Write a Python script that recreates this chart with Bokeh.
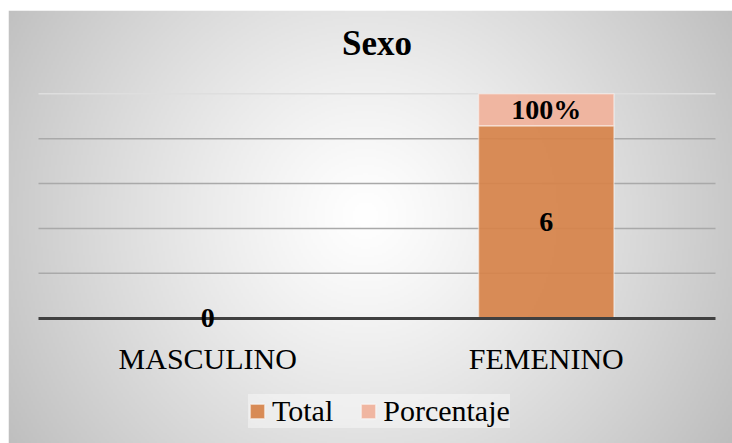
import numpy as np
from bokeh.plotting import figure
from bokeh.models import (ColumnDataSource, Range1d, LinearAxis, FixedTicker,
                          Legend, LegendItem, Label)
from bokeh.core.properties import value
from bokeh.embed import file_html
from bokeh.resources import INLINE

# ---------------- data ----------------
categories = ["MASCULINO", "FEMENINO"]
total = [0, 6]
porcentaje = [0.0, 1.0]
grid_values = [1.4, 2.8, 4.2, 5.6, 7.0]
title_text = "Sexo"

# ---------------- geometry ----------------
W, H = 732, 443
left_pad, top_pad = 8, 10
frame_w, frame_h = W - left_pad, H - top_pad
px_per_cat = 338.5
px_per_unit = 32.06
plot_left_px = 38 - left_pad
zero_px = 317.7 - top_pad

x0 = -0.5 - plot_left_px / px_per_cat
x1 = x0 + frame_w / px_per_cat
y1 = zero_px / px_per_unit
y0 = y1 - frame_h / px_per_unit

FONT = "Liberation Serif"

p = figure(width=W, height=H, x_range=Range1d(x0, x1), y_range=Range1d(y0, y1),
           output_backend="svg", toolbar_location=None,
           min_border_left=left_pad, min_border_top=top_pad,
           min_border_right=0, min_border_bottom=0,
           border_fill_color="white", outline_line_color=None,
           x_axis_type=None, y_axis_type=None)

# ---------------- background gradient ----------------
gw, gh = frame_w // 2, frame_h // 2
xs = left_pad + (np.arange(gw) + 0.5) * frame_w / gw
ys = top_pad + frame_h - (np.arange(gh) + 0.5) * frame_h / gh
X, Y = np.meshgrid(xs, ys)
cx, cy = 365.0, 215.0
R = np.hypot(max(cx - left_pad, W - cx), max(cy - top_pad, H - cy))
t = np.clip(np.hypot(X - cx, Y - cy) / R, 0, 1)
g = (255 - 66 * t ** 1.2).astype(np.uint8)
img = np.empty((gh, gw), dtype=np.uint32)
view = img.view(dtype=np.uint8).reshape((gh, gw, 4))
view[..., 0] = g
view[..., 1] = g
view[..., 2] = g
view[..., 3] = 255
p.image_rgba(image=[img], x=x0, y=y0, dw=x1 - x0, dh=y1 - y0, level="image")

# ---------------- gridlines ----------------
n = len(categories)
grid_colors = ["#dedede" if v == max(grid_values) else "#a9a9a9" for v in grid_values]
p.segment(x0=[-0.5] * len(grid_values), x1=[n - 0.5] * len(grid_values),
          y0=grid_values, y1=grid_values, line_color=grid_colors,
          line_width=1.5, level="underlay")

# ---------------- bars ----------------
src = ColumnDataSource(dict(x=list(range(n)), Total=total, Porcentaje=porcentaje))
rs = p.vbar_stack(["Total", "Porcentaje"], x="x", width=0.4, source=src,
                  fill_color=["#D6834A", "#F0B29B"], fill_alpha=0.93,
                  line_color="white", line_alpha=0.45, line_width=1.5)

# ---------------- x axis at zero ----------------
xaxis = LinearAxis(ticker=FixedTicker(ticks=list(range(n))),
                   major_label_overrides={i: c for i, c in enumerate(categories)},
                   fixed_location=0, bounds=(-0.5, n - 0.5))
xaxis.axis_line_width = 3
xaxis.axis_line_color = "#404040"
xaxis.major_tick_line_color = None
xaxis.minor_tick_line_color = None
xaxis.major_label_text_font = FONT
xaxis.major_label_text_font_size = "30px"
xaxis.major_label_text_color = "black"
xaxis.major_label_standoff = 18
p.add_layout(xaxis, "below")

# ---------------- data labels ----------------
lx, ly, lt = [], [], []
for i, (tv, pc) in enumerate(zip(total, porcentaje)):
    lx.append(i); ly.append(tv / 2); lt.append(f"{tv}")
    if pc > 0:
        lx.append(i); ly.append(tv + pc / 2); lt.append(f"{pc:.0%}")
p.text(x=lx, y=ly, text=lt, text_font=value(FONT), text_font_style="bold",
       text_font_size="28px", text_align="center", text_baseline="middle",
       text_color="black", level="overlay")

# ---------------- title ----------------
p.add_layout(Label(x=(n - 1) / 2, y=H - 43, x_units="data", y_units="screen",
                   text=title_text, text_font=FONT, text_font_style="bold",
                   text_font_size="35px", text_align="center",
                   text_baseline="middle", text_color="black"))

# ---------------- legend ----------------
legend = Legend(items=[LegendItem(label="Total", renderers=[rs[0]]),
                       LegendItem(label="Porcentaje", renderers=[rs[1]])],
                orientation="horizontal", location=(240, 15))
legend.label_text_font = FONT
legend.label_text_font_size = "30px"
legend.label_text_color = "black"
legend.glyph_width = 18
legend.glyph_height = 18
legend.label_standoff = 6
legend.spacing = 26
legend.padding = 13
legend.margin = 0
legend.background_fill_color = "white"
legend.background_fill_alpha = 0.4
legend.border_line_color = None
p.add_layout(legend, "center")

open("out.html", "w").write(file_html(p, INLINE))
